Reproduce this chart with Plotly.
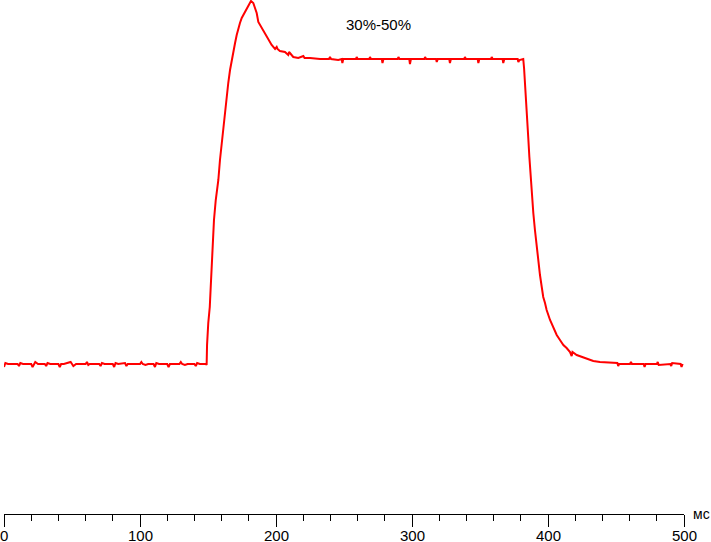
import plotly.graph_objects as go

# time in ms
time_ms = [
    0, 1, 3, 10, 11, 12, 14, 20, 21, 22, 23, 25, 30, 31, 32, 34, 40, 41, 42, 44,
    49, 50, 51, 53, 60, 61, 62, 63, 70, 71, 72, 74, 80, 81, 82, 84, 89, 90, 91,
    100, 101, 102, 104, 106, 110, 111, 112, 114, 120, 121, 122, 129, 130, 131,
    133, 135, 140, 141, 142, 144, 148.5,
    # rise
    149.0, 149.3, 150.2, 151.3, 152.0, 152.7, 153.5, 154.4, 155.7, 156.6, 157.6,
    158.8, 160.1, 161.3, 162.5, 163.8, 164.9, 166.2, 167.4, 168.6, 169.9, 171.1,
    172.3, 173.5, 174.8, 177.2, 179.6, 181.6, 183.3, 185.8, 187.0, 189.5, 191.9,
    194.3, 196.8, 199.3, 200.5, 201.1, 202.9, 206.6, 209.0, 209.6, 212.7, 216.4,
    220.1, 221.0, 225.0, 232.4, 239.0, 239.7, 240.5,
    # plateau
    245.8, 248.3, 248.8, 249.5, 258.8, 259.3, 260.0, 268.6, 269.1, 269.8,
    277.8, 278.3, 279.0, 289.5, 290.0, 290.8, 298.0, 298.5, 299.2, 309.1, 309.6,
    310.4, 317.7, 318.2, 319.0, 327.4, 327.9, 328.6, 338.4, 338.9, 339.6, 348.3,
    348.8, 349.5, 358.1, 358.6, 359.3, 366.6, 367.1, 367.9, 377.7, 378.2, 379.0,
    381.8,
    # fall
    382.4, 383.1, 383.8, 384.8, 385.5, 386.3, 387.0, 387.7, 388.5, 389.2, 390.4,
    391.7, 392.9, 394.1, 395.4, 396.5, 397.8, 399.0, 401.5, 403.9, 406.4, 408.8,
    411.3, 413.7, 416.2, 417.4, 418.0, 421.1, 424.8, 428.5, 433.3, 438.2, 447.8,
    # tail
    451.0, 451.6, 452.3, 460.3, 461.0, 461.7, 470.4, 471.0, 471.8, 480.1, 480.7,
    481.4, 490.0, 490.6, 491.3, 497.5, 498.2, 499.0,
]

level = [
    147, 151, 150, 150, 148, 151, 150, 150, 147, 150, 152, 150, 150, 148, 151, 150,
    150, 147, 150, 150, 152, 150, 148, 150, 150, 152, 149, 150, 150, 148, 151, 150,
    150, 147, 151, 150, 151, 148, 150, 150, 152, 150, 149, 150, 150, 147, 151, 150,
    150, 147, 150, 150, 152, 150, 149, 150, 150, 148, 151, 150, 150,
    # rise
    149, 169, 191, 207, 227, 251, 274, 294, 314, 324, 334, 354, 371, 387, 404, 421,
    431, 444, 454, 462, 471, 479, 486, 491, 496, 502, 509, 513, 511, 501, 492, 486,
    481, 474, 469, 465, 467, 465, 463, 462, 459, 462, 457, 456, 458, 456, 456, 455,
    455, 457, 455,
    # plateau
    454, 455, 451, 455, 455, 457, 455, 455, 457, 455, 455, 451, 455, 455, 457, 455,
    455, 450, 455, 455, 457, 455, 455, 452, 455, 455, 451, 455, 455, 457, 455, 455,
    451, 455, 455, 457, 455, 455, 451, 455, 455, 452, 454, 455,
    # fall
    446, 432, 412, 393, 376, 357, 342, 328, 311, 301, 284, 267, 251, 239, 227, 217,
    211, 204, 194, 186, 179, 174, 169, 166, 162, 158, 162, 159, 157, 155, 153, 152,
    151,
    # tail
    151, 148, 150, 150, 152, 150, 150, 147, 150, 150, 152, 149, 150, 148, 151, 150,
    147, 150,
]

x_ticks = [0, 100, 200, 300, 400, 500]
title_text = "30%-50%"
unit_text = "мс"

fig = go.Figure()
fig.add_trace(go.Scatter(
    x=time_ms, y=level, mode="lines",
    line=dict(color="#ff0000", width=2),
    hoverinfo="skip", showlegend=False,
))

tick_annotations = [
    dict(text=str(v), x=v, y=0, xref="x", yref="paper", yshift=-21,
         showarrow=False, font=dict(size=15), xanchor="center", yanchor="middle")
    for v in x_ticks
]

fig.update_layout(
    width=711, height=542,
    margin=dict(l=4, r=27, t=0, b=28),
    paper_bgcolor="white", plot_bgcolor="white",
    font=dict(family="Liberation Sans, Arial, sans-serif", size=15, color="#000000"),
    xaxis=dict(
        range=[0, 500], showgrid=False, zeroline=False,
        showline=True, linecolor="#000000", linewidth=1,
        ticks="outside", ticklen=12, tickwidth=1, tickcolor="#000000",
        tickvals=x_ticks, showticklabels=False,
        minor=dict(dtick=20, ticks="outside", ticklen=6, tickwidth=1, tickcolor="#000000"),
        automargin=False,
    ),
    yaxis=dict(range=[0, 514], visible=False, showgrid=False, zeroline=False),
    annotations=[
        dict(text=title_text, x=0.55, y=0.953, xref="paper", yref="paper",
             showarrow=False, font=dict(size=15), xanchor="center", yanchor="middle"),
        dict(text=unit_text, x=1.0, y=0, xref="paper", yref="paper",
             xshift=17, showarrow=False, font=dict(size=14), xanchor="center", yanchor="middle"),
    ] + tick_annotations,
)

fig.write_html(
    "out.html",
    config={"displayModeBar": False},
    post_script="document.body.style.margin='0';document.body.style.padding='0';document.body.style.overflow='hidden';",
)
